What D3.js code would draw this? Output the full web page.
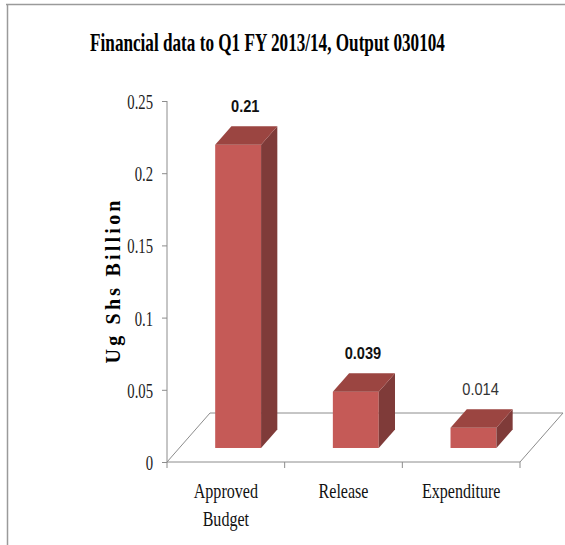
<!DOCTYPE html>
<html>
<head>
<meta charset="utf-8">
<script src="https://cdn.jsdelivr.net/npm/d3@7"></script>
<style>
  html, body { margin: 0; padding: 0; background: #fff; }
  svg { display: block; }
</style>
</head>
<body>
<svg id="chart" width="565" height="545"></svg>
<script>
// ---- data ----
const categories = ["Approved Budget", "Release", "Expenditure"];
const values = [0.21, 0.039, 0.014];
const valueLabels = ["0.21", "0.039", "0.014"];
const labelBold = [true, true, false];
const yTicks = [0, 0.05, 0.1, 0.15, 0.2, 0.25];
const yTickLabels = ["0", "0.05", "0.1", "0.15", "0.2", "0.25"];
const title = "Financial data to Q1 FY 2013/14, Output 030104";
const yTitle = "Ug Shs Billion";

// ---- layout ----
const svg = d3.select("#chart");
const serif = "'Liberation Serif', 'Times New Roman', serif";
const sans = "'Liberation Sans', Arial, sans-serif";

const y = d3.scaleLinear().domain([0, 0.25]).range([462, 101]);
const x = d3.scaleBand().domain(categories).range([167, 520]).paddingInner(0).paddingOuter(0);
const depth = { dx: 43, dy: -49 };       // floor depth vector
const barFront = 0.286, barDepth = 0.378; // fractions of floor depth
const barWidthFrac = 0.39;
const axisColor = "#8c8c8c";

// border
svg.append("line").attr("x1", 6).attr("x2", 565).attr("y1", 4.5).attr("y2", 4.5)
  .attr("stroke", "#9a9a9a").attr("stroke-width", 1.5);
svg.append("line").attr("x1", 7.5).attr("x2", 7.5).attr("y1", 4).attr("y2", 545)
  .attr("stroke", "#9a9a9a").attr("stroke-width", 1.5);

function squeezedText(g, txt, tx, ty, opts) {
  const t = g.append("text")
    .attr("transform", `translate(${tx},${ty}) scale(${opts.sx || 1},1)`)
    .attr("text-anchor", opts.anchor || "middle")
    .attr("font-family", opts.family || serif)
    .attr("font-size", opts.size)
    .attr("font-weight", opts.weight || "normal")
    .attr("fill", opts.fill || "#000")
    .text(txt);
  return t;
}

// title
squeezedText(svg, title, 267.5, 51, { size: 26, weight: "bold", sx: 0.66 });

// y-axis title
svg.append("text")
  .attr("transform", "translate(120,282) rotate(-90)")
  .attr("text-anchor", "middle")
  .attr("font-family", serif)
  .attr("font-size", 20)
  .attr("font-weight", "bold")
  .attr("textLength", 163)
  .attr("lengthAdjust", "spacing")
  .text(yTitle);

// floor parallelogram
const x0 = x.range()[0], x1 = x.range()[1], y0 = y(0);
svg.append("path")
  .attr("d", `M${x0},${y0} L${x0 + depth.dx},${y0 + depth.dy} L${x1 + depth.dx},${y0 + depth.dy} L${x1},${y0}`)
  .attr("fill", "none").attr("stroke", axisColor).attr("stroke-width", 1);

// y axis
const yAxis = d3.axisLeft(y).tickValues(yTicks).tickSize(5).tickFormat(() => "");
const gy = svg.append("g").attr("transform", `translate(${x0},0)`).call(yAxis);
gy.selectAll("path, line").attr("stroke", axisColor);
gy.select(".domain").attr("d", `M0,${y(0.25)}V${y(0)}`);
yTicks.forEach((v, i) => {
  squeezedText(svg, yTickLabels[i], x0 - 14, y(v) + 8, { size: 21, sx: 0.7, anchor: "end", fill: "#222" });
});

// x axis
const gx = svg.append("g").attr("transform", `translate(0,${y0})`);
gx.append("line").attr("x1", x0).attr("x2", x1).attr("y1", 0).attr("y2", 0).attr("stroke", axisColor);
const boundaries = categories.map(c => x(c)).concat([x1]);
gx.selectAll("line.tick").data(boundaries).enter().append("line")
  .attr("class", "tick")
  .attr("x1", d => d).attr("x2", d => d).attr("y1", 0).attr("y2", 6)
  .attr("stroke", axisColor);

categories.forEach(c => {
  const cx = x(c) + x.bandwidth() / 2;
  const lines = c === "Approved Budget" ? ["Approved", "Budget"] : [c];
  lines.forEach((ln, j) => {
    squeezedText(svg, ln, cx, 498 + j * 28, { size: 22, sx: 0.73, fill: "#111" });
  });
});

// bars
const fdx = depth.dx * barFront, fdy = depth.dy * barFront;
const bdx = depth.dx * barDepth, bdy = depth.dy * barDepth;
const bw = x.bandwidth() * barWidthFrac;
const gb = svg.append("g");
categories.forEach((c, i) => {
  const cx = x(c) + x.bandwidth() / 2 + fdx;
  const xl = cx - bw / 2, xr = cx + bw / 2;
  const yb = y(0) + fdy, yt = y(values[i]) + fdy;
  // front
  gb.append("rect").attr("x", xl).attr("y", yt).attr("width", bw).attr("height", yb - yt)
    .attr("fill", "#C55A57");
  // side
  gb.append("path")
    .attr("d", `M${xr},${yt} L${xr + bdx},${yt + bdy} L${xr + bdx},${yb + bdy} L${xr},${yb} Z`)
    .attr("fill", "#7F3B39");
  // top
  gb.append("path")
    .attr("d", `M${xl},${yt} L${xl + bdx},${yt + bdy} L${xr + bdx},${yt + bdy} L${xr},${yt} Z`)
    .attr("fill", "#9B4541");
  // label
  squeezedText(svg, valueLabels[i], cx + bdx / 2 - 1, yt + bdy - 14, {
    size: 17, sx: 0.86, family: sans, weight: labelBold[i] ? "bold" : "normal",
    fill: labelBold[i] ? "#111" : "#333"
  });
});
</script>
</body>
</html>
